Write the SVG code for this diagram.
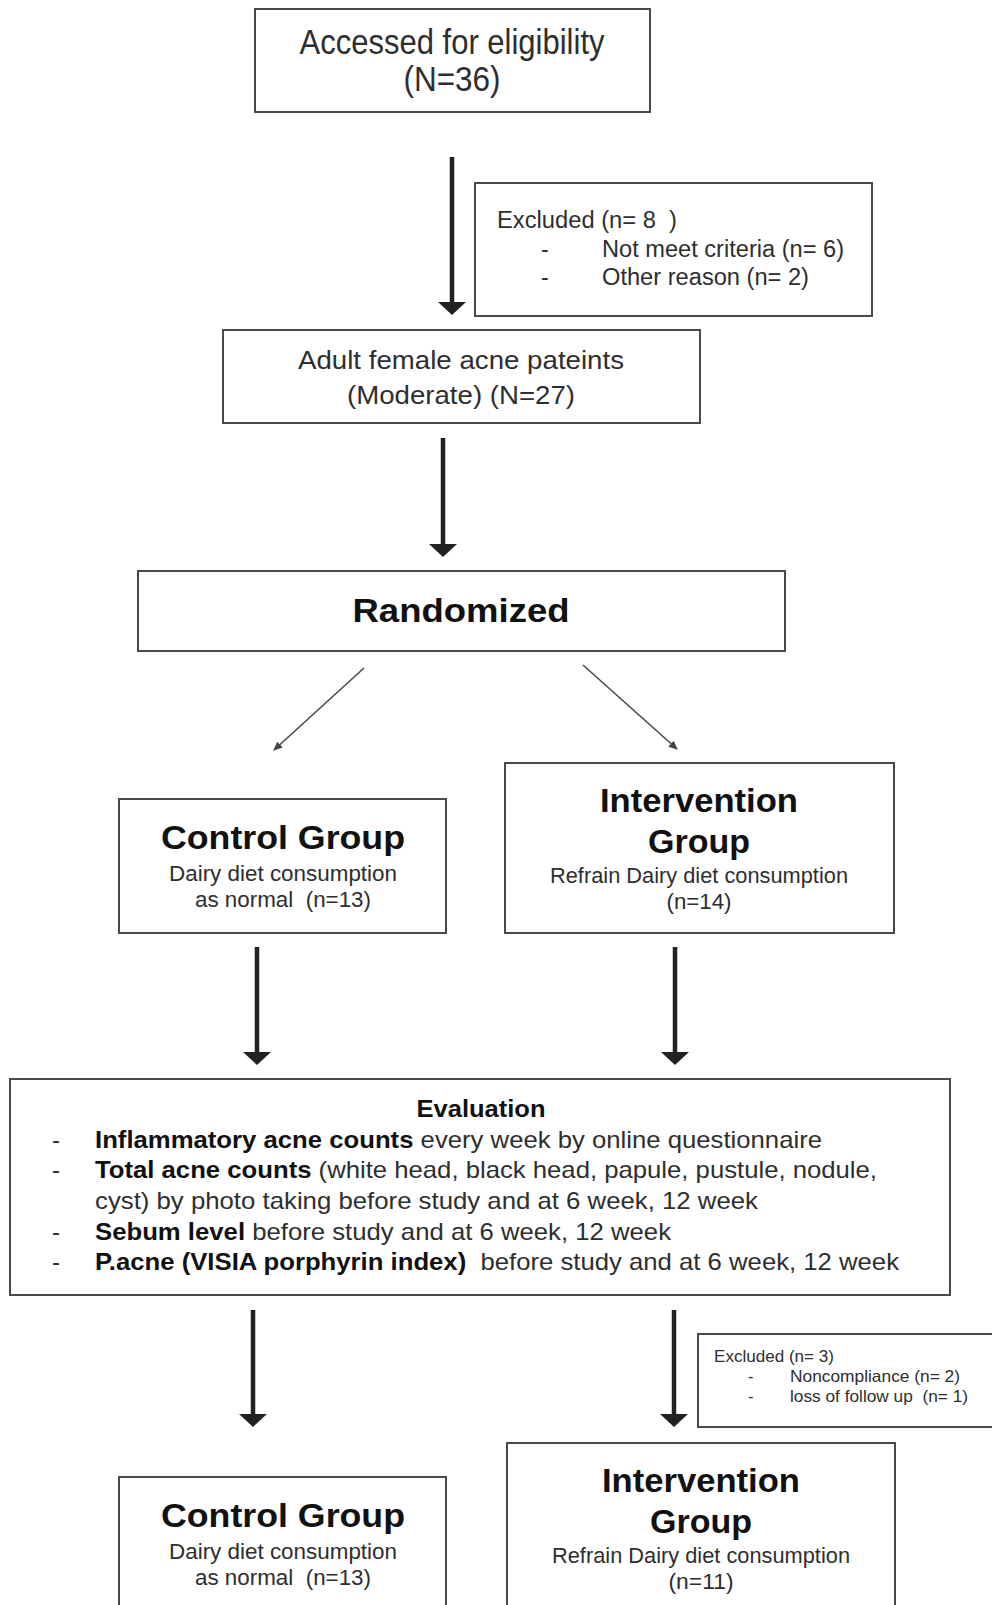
<svg xmlns="http://www.w3.org/2000/svg" width="992" height="1605" viewBox="0 0 992 1605">
<style>
.box{fill:#fff;stroke:#4a4a4a;stroke-width:2}
text{font-family:"Liberation Sans",Arial,sans-serif;fill:#2e2e2e}
.b{font-weight:bold;fill:#111}
.c{text-anchor:middle}
.thick{stroke:#222;stroke-width:4.5;fill:none}
.thin{stroke:#444;stroke-width:1.5;fill:none}
</style>
<defs>
<marker id="hd" markerUnits="userSpaceOnUse" markerWidth="14" markerHeight="30" refX="0" refY="15" orient="auto">
<path d="M0,1 L13,15 L0,29 z" fill="#222"/>
</marker>
<marker id="hs" markerUnits="userSpaceOnUse" markerWidth="9" markerHeight="8" refX="8" refY="4" orient="auto">
<path d="M0,0 L9,4 L0,8 z" fill="#444"/>
</marker>
</defs>
<rect width="992" height="1605" fill="#fff"/>

<g id="connectors">
<line class="thick" x1="452" y1="157" x2="452" y2="302" marker-end="url(#hd)"/>
<line class="thick" x1="443" y1="438" x2="443" y2="544" marker-end="url(#hd)"/>
<line class="thin" x1="364" y1="668" x2="274" y2="750" marker-end="url(#hs)"/>
<line class="thin" x1="583" y1="665" x2="677" y2="749" marker-end="url(#hs)"/>
<line class="thick" x1="257" y1="947" x2="257" y2="1052" marker-end="url(#hd)"/>
<line class="thick" x1="675" y1="947" x2="675" y2="1052" marker-end="url(#hd)"/>
<line class="thick" x1="253" y1="1310" x2="253" y2="1414" marker-end="url(#hd)"/>
<line class="thick" x1="674" y1="1310" x2="674" y2="1414" marker-end="url(#hd)"/>
</g>

<g id="eligibility">
<rect class="box" x="255" y="9" width="395" height="103"/>
<text class="c" x="452" y="54" font-size="35" textLength="305" lengthAdjust="spacingAndGlyphs">Accessed for eligibility</text>
<text class="c" x="452" y="91" font-size="35" textLength="97" lengthAdjust="spacingAndGlyphs">(N=36)</text>
</g>

<g id="excluded1">
<rect class="box" x="475" y="183" width="397" height="133"/>
<text x="497" y="228" font-size="23" textLength="180" lengthAdjust="spacingAndGlyphs" xml:space="preserve">Excluded (n= 8  )</text>
<text x="541" y="257" font-size="23">-</text>
<text x="602" y="257" font-size="23" textLength="242" lengthAdjust="spacingAndGlyphs">Not meet criteria (n= 6)</text>
<text x="541" y="285" font-size="23">-</text>
<text x="602" y="285" font-size="23" textLength="207" lengthAdjust="spacingAndGlyphs">Other reason (n= 2)</text>
</g>

<g id="patients">
<rect class="box" x="223" y="330" width="477" height="93"/>
<text class="c" x="461" y="369" font-size="26" textLength="326" lengthAdjust="spacingAndGlyphs">Adult female acne pateints</text>
<text class="c" x="461" y="404" font-size="26" textLength="228" lengthAdjust="spacingAndGlyphs">(Moderate) (N=27)</text>
</g>

<g id="randomized">
<rect class="box" x="138" y="571" width="647" height="80"/>
<text class="c b" x="461" y="622" font-size="34" textLength="217" lengthAdjust="spacingAndGlyphs">Randomized</text>
</g>

<g id="control1">
<rect class="box" x="119" y="799" width="327" height="134"/>
<text class="c b" x="283" y="849" font-size="34" textLength="244" lengthAdjust="spacingAndGlyphs">Control Group</text>
<text class="c" x="283" y="881" font-size="21.5" textLength="228" lengthAdjust="spacingAndGlyphs">Dairy diet consumption</text>
<text class="c" x="283" y="907" font-size="21.5" textLength="176" lengthAdjust="spacingAndGlyphs" xml:space="preserve">as normal  (n=13)</text>
</g>

<g id="intervention1">
<rect class="box" x="505" y="763" width="389" height="170"/>
<text class="c b" x="699" y="812" font-size="34" textLength="198" lengthAdjust="spacingAndGlyphs">Intervention</text>
<text class="c b" x="699" y="853" font-size="34" textLength="102" lengthAdjust="spacingAndGlyphs">Group</text>
<text class="c" x="699" y="883" font-size="21.5" textLength="298" lengthAdjust="spacingAndGlyphs">Refrain Dairy diet consumption</text>
<text class="c" x="699" y="909" font-size="21.5" textLength="65" lengthAdjust="spacingAndGlyphs">(n=14)</text>
</g>

<g id="evaluation">
<rect class="box" x="10" y="1079" width="940" height="216"/>
<text class="c b" x="481" y="1117" font-size="24" textLength="129" lengthAdjust="spacingAndGlyphs">Evaluation</text>
<text x="52" y="1148" font-size="24">-</text>
<text x="95" y="1148" font-size="24" textLength="727" lengthAdjust="spacingAndGlyphs"><tspan class="b">Inflammatory acne counts</tspan> every week by online questionnaire</text>
<text x="52" y="1178" font-size="24">-</text>
<text x="95" y="1178" font-size="24" textLength="782" lengthAdjust="spacingAndGlyphs"><tspan class="b">Total acne counts</tspan> (white head, black head, papule, pustule, nodule,</text>
<text x="95" y="1209" font-size="24" textLength="663" lengthAdjust="spacingAndGlyphs">cyst) by photo taking before study and at 6 week, 12 week</text>
<text x="52" y="1240" font-size="24">-</text>
<text x="95" y="1240" font-size="24" textLength="576" lengthAdjust="spacingAndGlyphs"><tspan class="b">Sebum level</tspan> before study and at 6 week, 12 week</text>
<text x="52" y="1270" font-size="24">-</text>
<text x="95" y="1270" font-size="24" textLength="804" lengthAdjust="spacingAndGlyphs" xml:space="preserve"><tspan class="b">P.acne (VISIA porphyrin index)</tspan>  before study and at 6 week, 12 week</text>
</g>

<g id="excluded2">
<rect class="box" x="698" y="1334" width="310" height="93"/>
<text x="714" y="1362" font-size="16.5" textLength="120" lengthAdjust="spacingAndGlyphs">Excluded (n= 3)</text>
<text x="748" y="1382" font-size="16.5">-</text>
<text x="790" y="1382" font-size="16.5" textLength="170" lengthAdjust="spacingAndGlyphs">Noncompliance (n= 2)</text>
<text x="748" y="1402" font-size="16.5">-</text>
<text x="790" y="1402" font-size="16.5" textLength="178" lengthAdjust="spacingAndGlyphs" xml:space="preserve">loss of follow up  (n= 1)</text>
</g>

<g id="control2">
<rect class="box" x="119" y="1477" width="327" height="140"/>
<text class="c b" x="283" y="1527" font-size="34" textLength="244" lengthAdjust="spacingAndGlyphs">Control Group</text>
<text class="c" x="283" y="1559" font-size="21.5" textLength="228" lengthAdjust="spacingAndGlyphs">Dairy diet consumption</text>
<text class="c" x="283" y="1585" font-size="21.5" textLength="176" lengthAdjust="spacingAndGlyphs" xml:space="preserve">as normal  (n=13)</text>
</g>

<g id="intervention2">
<rect class="box" x="507" y="1443" width="388" height="175"/>
<text class="c b" x="701" y="1492" font-size="34" textLength="198" lengthAdjust="spacingAndGlyphs">Intervention</text>
<text class="c b" x="701" y="1533" font-size="34" textLength="102" lengthAdjust="spacingAndGlyphs">Group</text>
<text class="c" x="701" y="1563" font-size="21.5" textLength="298" lengthAdjust="spacingAndGlyphs">Refrain Dairy diet consumption</text>
<text class="c" x="701" y="1589" font-size="21.5" textLength="65" lengthAdjust="spacingAndGlyphs">(n=11)</text>
</g>
</svg>
